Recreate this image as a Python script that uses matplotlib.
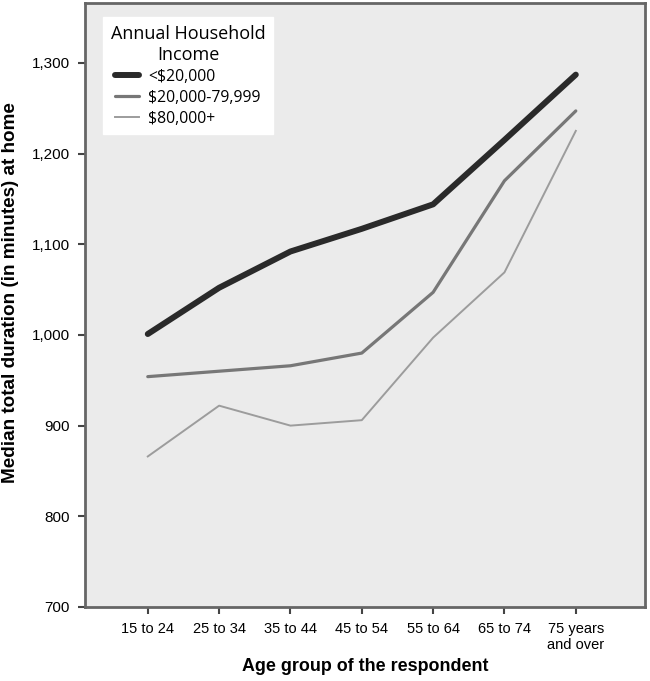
import matplotlib.pyplot as plt
from matplotlib.ticker import FuncFormatter

# Data
age_groups = ["15 to 24", "25 to 34", "35 to 44", "45 to 54", "55 to 64", "65 to 74", "75 years\nand over"]
low_income = [1001, 1052, 1092, 1117, 1144, 1215, 1287]
mid_income = [954, 960, 966, 980, 1047, 1170, 1247]
high_income = [866, 922, 900, 906, 997, 1069, 1225]
series_names = ["<$20,000", "$20,000-79,999", "$80,000+"]

fig = plt.figure(figsize=(6.5, 6.81), dpi=100)
ax = fig.add_axes([85 / 650, 74 / 681, 560 / 650, 604 / 681])
ax.set_facecolor("#ebebeb")

x = list(range(len(age_groups)))
ax.plot(x, low_income, color="#2a2a2a", lw=4.3, solid_capstyle="round", label=series_names[0])
ax.plot(x, mid_income, color="#777777", lw=2.3, solid_capstyle="round", label=series_names[1])
ax.plot(x, high_income, color="#9c9c9c", lw=1.4, label=series_names[2])

ax.set_xlim(-0.88, 6.97)
ax.set_ylim(700, 1366)
ax.set_xticks(x)
ax.set_xticklabels(age_groups, fontsize=10.5, family="Liberation Sans")
ax.set_yticks([700, 800, 900, 1000, 1100, 1200, 1300])
ax.yaxis.set_major_formatter(FuncFormatter(lambda v, p: f"{int(v):,}"))
for lbl in ax.get_yticklabels():
    lbl.set_fontsize(11)
    lbl.set_family("Liberation Sans")

ax.tick_params(direction="out", length=5, width=1.5, color="#444444", pad=6)
for s in ax.spines.values():
    s.set_color("#666666")
    s.set_linewidth(2)

ax.set_xlabel("Age group of the respondent", fontsize=12.9, fontweight="bold",
              family="Liberation Sans", labelpad=4)
ax.set_ylabel("Median total duration (in minutes) at home", fontsize=13.6,
              fontweight="bold", family="Liberation Sans")
ax.yaxis.set_label_coords(-0.117, 0.52)

leg = ax.legend(title="Annual Household\nIncome", loc="upper left",
                bbox_to_anchor=(0.032, 0.977), borderaxespad=0,
                fancybox=False, framealpha=1, edgecolor="white",
                prop={"family": "Open Sans", "size": 11.3},
                title_fontproperties={"family": "Open Sans", "size": 13},
                handlelength=1.5, handletextpad=0.6, labelspacing=0.32,
                borderpad=0.5)
leg.get_title().set_multialignment("center")

fig.savefig("out.png", dpi=100, facecolor="white")
